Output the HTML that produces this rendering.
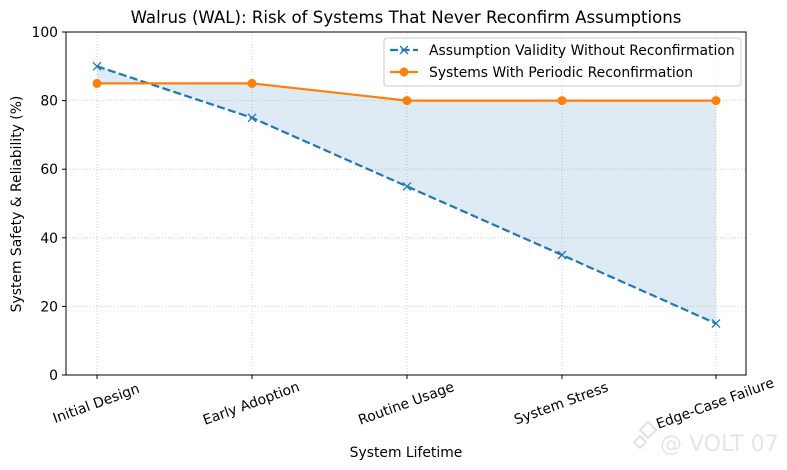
<!DOCTYPE html>
<html><head><meta charset="utf-8"><style>body{margin:0;background:#fff}svg{display:block}text{font-family:"DejaVu Sans","Liberation Sans",sans-serif;fill:#000}</style></head>
<body>
<svg width="787" height="470" viewBox="0 0 787 470">
<rect width="787" height="470" fill="#fff"/>
<g stroke="#b0b0b0" stroke-width="0.8" stroke-dasharray="1,2" opacity="0.7">
<line x1="97" y1="32" x2="97" y2="375"/><line x1="252" y1="32" x2="252" y2="375"/><line x1="407" y1="32" x2="407" y2="375"/><line x1="562" y1="32" x2="562" y2="375"/><line x1="716" y1="32" x2="716" y2="375"/>
<line x1="66" y1="306.4" x2="746" y2="306.4"/><line x1="66" y1="237.8" x2="746" y2="237.8"/><line x1="66" y1="169.2" x2="746" y2="169.2"/><line x1="66" y1="100.6" x2="746" y2="100.6"/><line x1="66" y1="32" x2="746" y2="32"/>
</g>
<polygon points="97,66.3 252,117.8 407,186.4 562,255 716,323.5 716,100.6 562,100.6 407,100.6 252,83.4 97,83.4" fill="#1f77b4" fill-opacity="0.15"/>
<polyline points="97,66.3 252,117.8 407,186.4 562,255 716,323.5" fill="none" stroke="#1f77b4" stroke-width="2.2" stroke-dasharray="8,3.5"/>
<g stroke="#1f77b4" stroke-width="1.3">
<path d="M93,62.3l8,8M101,62.3l-8,8"/><path d="M248,113.8l8,8M256,113.8l-8,8"/><path d="M403,182.4l8,8M411,182.4l-8,8"/><path d="M558,251l8,8M566,251l-8,8"/><path d="M712,319.5l8,8M720,319.5l-8,8"/>
</g>
<polyline points="97,83.4 252,83.4 407,100.6 562,100.6 716,100.6" fill="none" stroke="#ff7f0e" stroke-width="2.2"/>
<g fill="#ff7f0e"><circle cx="97" cy="83.4" r="4.5"/><circle cx="252" cy="83.4" r="4.5"/><circle cx="407" cy="100.6" r="4.5"/><circle cx="562" cy="100.6" r="4.5"/><circle cx="716" cy="100.6" r="4.5"/></g>
<rect x="66" y="32" width="680" height="343" fill="none" stroke="#000" stroke-width="1"/>
<g stroke="#000"><line x1="62" y1="375" x2="66" y2="375"/><line x1="62" y1="306.4" x2="66" y2="306.4"/><line x1="62" y1="237.8" x2="66" y2="237.8"/><line x1="62" y1="169.2" x2="66" y2="169.2"/><line x1="62" y1="100.6" x2="66" y2="100.6"/><line x1="62" y1="32" x2="66" y2="32"/>
<line x1="97" y1="375" x2="97" y2="379"/><line x1="252" y1="375" x2="252" y2="379"/><line x1="407" y1="375" x2="407" y2="379"/><line x1="562" y1="375" x2="562" y2="379"/><line x1="716" y1="375" x2="716" y2="379"/></g>
<g font-size="13.9" text-anchor="end"><text x="58" y="380">0</text><text x="58" y="311.4">20</text><text x="58" y="242.8">40</text><text x="58" y="174.2">60</text><text x="58" y="105.6">80</text><text x="58" y="37">100</text></g>
<g font-size="13.9" text-anchor="middle">
<text transform="translate(96,403) rotate(-20)" dy="5">Initial Design</text>
<text transform="translate(251,403) rotate(-20)" dy="5">Early Adoption</text>
<text transform="translate(406,403) rotate(-20)" dy="5">Routine Usage</text>
<text transform="translate(561,403) rotate(-20)" dy="5">System Stress</text>
<text transform="translate(715,403) rotate(-20)" dy="5">Edge-Case Failure</text>
</g>
<text x="406" y="457" font-size="13.9" text-anchor="middle">System Lifetime</text>
<text transform="translate(21,204) rotate(-90)" font-size="13.9" text-anchor="middle">System Safety &amp; Reliability (%)</text>
<text x="406" y="23" font-size="16.6" text-anchor="middle">Walrus (WAL): Risk of Systems That Never Reconfirm Assumptions</text>
<rect x="384" y="38" width="357" height="48" rx="3" fill="#fff" fill-opacity="0.8" stroke="#ccc"/>
<line x1="390" y1="50" x2="418" y2="50" stroke="#1f77b4" stroke-width="2.2" stroke-dasharray="8,3.5"/>
<path d="M400,46l8,8M408,46l-8,8" stroke="#1f77b4" stroke-width="1.3"/>
<line x1="390" y1="72" x2="418" y2="72" stroke="#ff7f0e" stroke-width="2.2"/><circle cx="404" cy="72" r="4.5" fill="#ff7f0e"/>
<text x="429" y="55" font-size="13.9">Assumption Validity Without Reconfirmation</text>
<text x="429" y="77" font-size="13.9">Systems With Periodic Reconfirmation</text>
<g opacity="0.55"><path d="M640,430l8,-8l8,8l-8,8z M634,442l6,-6 6,6 -6,6z" fill="none" stroke="#ccc" stroke-width="2"/>
<text x="660" y="451" font-size="22" style="fill:#d0d0d0">@ VOLT 07</text></g>
</svg>
</body></html>
